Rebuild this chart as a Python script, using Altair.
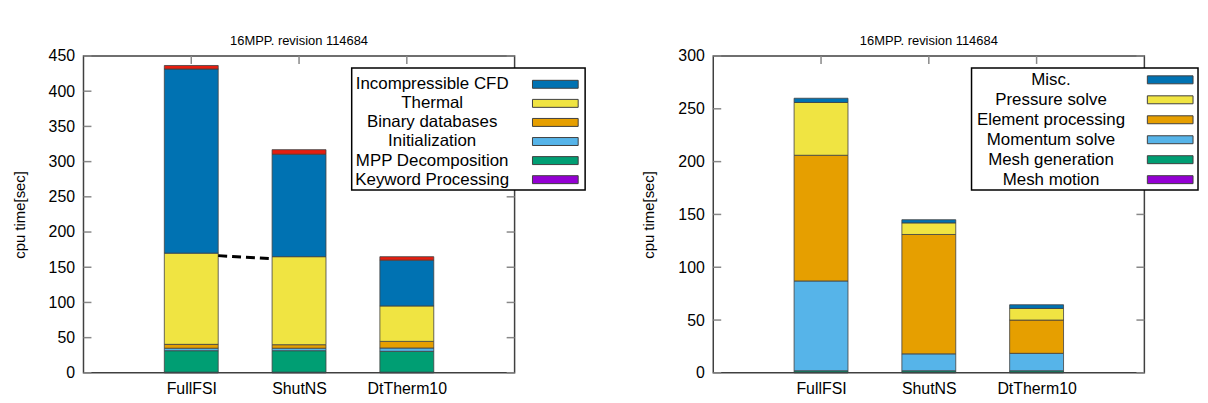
import altair as alt
import pandas as pd

categories = ["FullFSI", "ShutNS", "DtTherm10"]
title_text = "16MPP. revision 114684"
y_title = "cpu time[sec]"

# ---------- left panel data (bottom -> top of stack) ----------
left_series = ["Keyword Processing", "MPP Decomposition", "Initialization",
               "Binary databases", "Thermal", "Incompressible CFD", "Other"]
left_colors = ["#9400D3", "#009E73", "#56B4E9", "#E69F00", "#F0E442", "#0072B2", "#E51E10"]
kw_processing = [1.0, 1.0, 1.0]
mpp_decomp = [30.5, 30.5, 29.6]
initialization = [3.5, 3.5, 4.7]
binary_db = [5.5, 5.0, 9.4]
thermal = [129.5, 125.0, 50.3]
incomp_cfd = [261.5, 145.5, 65.0]
other = [5.0, 6.5, 5.0]
left_values = [kw_processing, mpp_decomp, initialization, binary_db, thermal, incomp_cfd, other]
left_legend = ["Incompressible CFD", "Thermal", "Binary databases",
               "Initialization", "MPP Decomposition", "Keyword Processing"]
left_yticks = [0, 50, 100, 150, 200, 250, 300, 350, 400, 450]
dash_values = [166.5, 162.0]   # dashed connector FullFSI -> ShutNS

# ---------- right panel data ----------
right_series = ["Mesh motion", "Mesh generation", "Momentum solve",
                "Element processing", "Pressure solve", "Misc."]
right_colors = ["#9400D3", "#009E73", "#56B4E9", "#E69F00", "#F0E442", "#0072B2"]
mesh_motion = [0.5, 0.5, 0.5]
mesh_gen = [1.5, 1.5, 1.5]
momentum = [85.0, 16.0, 16.5]
element = [119.0, 113.0, 31.5]
pressure = [50.0, 11.0, 11.0]
misc = [4.0, 3.0, 3.5]
right_values = [mesh_motion, mesh_gen, momentum, element, pressure, misc]
right_legend = ["Misc.", "Pressure solve", "Element processing",
                "Momentum solve", "Mesh generation", "Mesh motion"]
right_yticks = [0, 50, 100, 150, 200, 250, 300]

W, H = 434, 319
HALF = 0.25
FONT = "Liberation Sans"
SWATCH = "M-1,-0.174H1V0.174H-1Z"


def panel(series, values, colors, legend_order, ymax, yticks, lg, dash=None):
    cmap = dict(zip(series, colors))
    rows = []
    for ci, cat in enumerate(categories):
        base = 0.0
        for s, vals in zip(series, values):
            v = vals[ci]
            rows.append(dict(cat=cat, series=s, x0=ci - HALF, x1=ci + HALF,
                             y0=base, y1=base + v, color=cmap[s]))
            base += v
    bars_df = pd.DataFrame(rows)

    xs = alt.Scale(domain=[-1, 3], nice=False, zero=False)
    ys = alt.Scale(domain=[0, ymax], nice=False, zero=True)
    label_expr = "[" + ",".join("'%s'" % c for c in categories) + "][datum.value]"
    xaxis = alt.Axis(values=list(range(len(categories))), labelExpr=label_expr,
                     ticks=False, domain=False, grid=False, labelFontSize=16,
                     labelPadding=8, title=None, labelColor="black",
                     labelOverlap=False)
    yaxis = alt.Axis(values=yticks, ticks=False, domain=False, grid=False,
                     labelFontSize=16, labelPadding=9, title=y_title,
                     titleFontSize=15, titleFontWeight="normal", titlePadding=21,
                     labelColor="black", titleColor="black", labelOverlap=False)

    def X(f):
        return alt.X(f, scale=xs, axis=xaxis)

    def Y(f):
        return alt.Y(f, scale=ys, axis=yaxis)

    ytick_df = pd.DataFrame({"y0": yticks})
    xtick_df = pd.DataFrame({"x0": list(range(len(categories)))})
    tcol = "#888888"
    lt = alt.Chart(ytick_df).mark_rule(color=tcol, strokeWidth=1.5).encode(
        y=Y("y0:Q"), x=alt.value(0), x2=alt.value(8))
    rt = alt.Chart(ytick_df).mark_rule(color=tcol, strokeWidth=1.5).encode(
        y=Y("y0:Q"), x=alt.value(W - 8), x2=alt.value(W))
    tt = alt.Chart(xtick_df).mark_rule(color=tcol, strokeWidth=1.5).encode(
        x=X("x0:Q"), y=alt.value(0), y2=alt.value(8))

    bars = alt.Chart(bars_df).mark_rect(stroke="#404040", strokeWidth=1,
                                        strokeOpacity=0.8).encode(
        x=X("x0:Q"), x2="x1:Q",
        y=Y("y0:Q"), y2="y1:Q",
        color=alt.Color("color:N", scale=None),
        tooltip=["cat:N", "series:N"])

    layers = [lt, rt, tt, bars]
    if dash is not None:
        dash_df = pd.DataFrame({"x0": [0 + HALF, 1 - HALF], "y0": dash})
        layers.append(alt.Chart(dash_df).mark_line(
            color="black", strokeWidth=3, strokeDash=[9, 5]).encode(
            x=X("x0:Q"), y=Y("y0:Q")))
    main = alt.layer(*layers)

    leg_df = pd.DataFrame({"name": legend_order,
                           "color": [cmap[n] for n in legend_order]})
    rowscale = alt.Scale(type="point", domain=legend_order,
                         range=[lg["top"], lg["bottom"]], padding=0)
    box = alt.Chart(pd.DataFrame({"b": [0]})).mark_rect(
        fill="white", stroke="black", strokeWidth=1.5).encode(
        x=alt.value(lg["bx0"]), x2=alt.value(lg["bx1"]),
        y=alt.value(lg["by0"]), y2=alt.value(lg["by1"]))
    labels = alt.Chart(leg_df).mark_text(
        align="center", baseline="middle", fontSize=17, color="black").encode(
        y=alt.Y("name:N", scale=rowscale, axis=None),
        x=alt.value(lg["tx"]), text="name:N")
    swatches = alt.Chart(leg_df).mark_point(
        shape=SWATCH, size=46 * 46, filled=True, opacity=1,
        stroke="#404040", strokeWidth=1).encode(
        y=alt.Y("name:N", scale=rowscale, axis=None),
        x=alt.value(lg["sx"]),
        fill=alt.Color("color:N", scale=None))
    legend = alt.layer(box, labels, swatches)

    return alt.layer(main, legend).resolve_scale(y="independent").properties(
        width=W, height=H,
        title=alt.TitleParams(title_text, fontSize=13, fontWeight="normal",
                              offset=0, anchor="middle", frame="group",
                              color="black"))


left = panel(left_series, left_values, left_colors, left_legend, 450, left_yticks,
             dict(bx0=270, bx1=505, by0=12, by1=135, top=28.5, bottom=124.5,
                  tx=351, sx=475), dash=dash_values)
right = panel(right_series, right_values, right_colors, right_legend, 300, right_yticks,
              dict(bx0=260, bx1=488, by0=12, by1=135, top=24, bottom=124.5,
                   tx=340, sx=460))

chart = alt.hconcat(left, right, spacing=200, bounds="flush").properties(
    padding={"left": 3, "top": 25, "right": 0, "bottom": 0}
).configure(font=FONT).configure_view(stroke="#404040", strokeWidth=1.5)

chart.save("out.html", embed_options={"renderer": "svg", "actions": False})
